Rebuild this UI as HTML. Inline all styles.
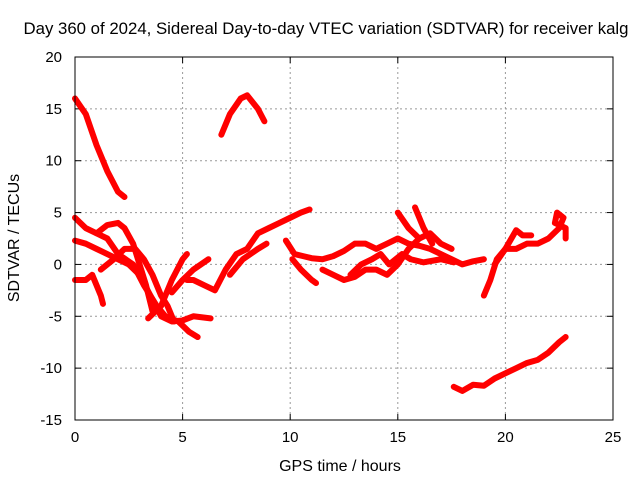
<!DOCTYPE html>
<html><head><meta charset="utf-8"><style>
body{margin:0;background:#fff}
svg{display:block;font-family:"Liberation Sans",sans-serif;font-size:15px}
</style></head><body>
<svg id="c" width="640" height="480" xmlns="http://www.w3.org/2000/svg">
<text x="326" y="34" text-anchor="middle" style="font-size:16.8px">Day 360 of 2024, Sidereal Day-to-day VTEC variation (SDTVAR) for receiver kalg</text>
<text x="340" y="471" text-anchor="middle" style="font-size:16px">GPS time / hours</text>
<text transform="translate(19,238) rotate(-90)" text-anchor="middle" style="font-size:16px">SDTVAR / TECUs</text>
<g id="grid"></g>
<g id="ticks"></g>
<g id="series"></g>
<rect x="75" y="57" width="538" height="363" fill="none" stroke="#000" stroke-width="1"/>
</svg>
<script>
const xTicks=[0,5,10,15,20,25];
const yTicks=[-15,-10,-5,0,5,10,15,20];
const s1=[[0,16],[0.5,14.5],[1,11.5],[1.5,9],[2,7],[2.3,6.5]];
const s2=[[6.8,12.5],[7.2,14.5],[7.7,16],[8,16.3],[8.5,15],[8.8,13.8]];
const s3=[[0,4.5],[0.5,3.5],[1,3],[1.5,2.5],[2,1],[2.7,0],[3.2,-2],[3.8,-4],[4.2,-5],[4.8,-5.5],[5.3,-6.5],[5.7,-7]];
const s4=[[0,2.3],[0.5,2],[1,1.5],[1.5,1],[2,0.5],[2.5,0],[3,-1],[3.5,-3],[4,-5],[4.5,-5.5],[5,-5.4],[5.5,-5],[6.3,-5.2]];
const s5=[[0,-1.5],[0.5,-1.5],[0.8,-1],[1,-2],[1.2,-3],[1.3,-3.8]];
const s6=[[1,3],[1.5,3.8],[2,4],[2.3,3.5],[2.7,2],[3,0],[3.3,-2],[3.6,-4.5]];
const s7=[[1.2,-0.5],[1.8,0.5],[2.3,1.5],[2.8,1.5],[3.2,0.5],[3.6,-1],[4,-3],[4.3,-4],[4.6,-5.5]];
const s8=[[3.4,-5.2],[4,-4],[4.5,-1.5],[5,0.5],[5.2,1]];
const s9=[[5.2,-1.5],[5.5,-1.5],[6,-2],[6.5,-2.5],[7,-0.5],[7.5,1],[8,1.5],[8.5,3],[9,3.5],[9.5,4],[10,4.5],[10.5,5],[10.9,5.3]];
const s10=[[4.5,-2.7],[5,-1.5],[5.5,-0.5],[6.2,0.5]];
const s11=[[7.2,-1],[7.8,0.5],[8.5,1.5],[8.9,2]];
const s12=[[9.8,2.3],[10.2,1],[10.6,0.8],[11,0.6],[11.5,0.5],[12,0.8],[12.5,1.3],[13,2],[13.5,2],[14,1.5],[14.5,2],[15,2.5],[15.5,2],[16,1.8],[16.5,1.5],[17,1],[17.5,0.5],[18,0],[18.5,0.3],[19,0.5]];
const s13=[[10.1,0.5],[10.5,-0.5],[11,-1.5],[11.2,-1.8]];
const s14=[[11.5,-0.5],[12,-1],[12.5,-1.5],[13,-1.2],[13.5,-0.5],[14,-0.5],[14.5,-1],[15,0],[15.5,1.5],[16,2.5],[16.5,3],[17,2],[17.5,1.5]];
const s15=[[15,5],[15.5,3.5],[16,2.5]];
const s16=[[15.8,5.5],[16.2,3.5],[16.6,2]];
const s17=[[12.8,-1],[13.3,0],[13.8,0.5],[14.2,1],[14.6,0],[15.2,1],[15.6,0.5],[16.2,0.2],[17,0.5],[17.6,0.2]];
const s18=[[19,-3],[19.3,-1.5],[19.6,0.5],[20,1.5],[20.5,3.3],[20.8,2.8],[21.2,2.8]];
const s19=[[19.5,0],[20,1.5],[20.5,1.5],[21,2],[21.5,2],[22,2.5],[22.5,3.5],[22.7,4.5],[22.4,5],[22.3,4],[22.8,3.5],[22.8,2.5]];
const s20=[[17.6,-11.8],[18,-12.2],[18.5,-11.6],[19,-11.7],[19.5,-11],[20,-10.5],[20.5,-10],[21,-9.5],[21.5,-9.2],[22,-8.5],[22.5,-7.5],[22.8,-7]];
const allSeries=[s1,s2,s3,s4,s5,s6,s7,s8,s9,s10,s11,s12,s13,s14,s15,s16,s17,s18,s19,s20];
const X=v=>75+v*538/25, Y=v=>57+(20-v)*363/35;
const NS="http://www.w3.org/2000/svg";
const mk=(t,a,p)=>{const e=document.createElementNS(NS,t);for(const k in a)e.setAttribute(k,a[k]);p.appendChild(e);return e;};
const G=document.getElementById('grid'),T=document.getElementById('ticks'),S=document.getElementById('series');
xTicks.forEach(v=>{
 if(v>0&&v<25){const l=mk('line',{x1:X(v),x2:X(v),y1:57,y2:420,stroke:'#999','stroke-dasharray':'2,3'},G);
 
 }
 mk('line',{x1:X(v),x2:X(v),y1:420,y2:414,stroke:'#000'},T);
 mk('line',{x1:X(v),x2:X(v),y1:57,y2:63,stroke:'#000'},T);
 const t=mk('text',{x:X(v),y:442,'text-anchor':'middle'},T);t.textContent=v;
 
 
});
yTicks.forEach(v=>{
 if(v>-15&&v<20){const l=mk('line',{x1:75,x2:613,y1:Y(v),y2:Y(v),stroke:'#999','stroke-dasharray':'2,3'},G);
 
 }
 mk('line',{x1:75,x2:81,y1:Y(v),y2:Y(v),stroke:'#000'},T);
 mk('line',{x1:613,x2:607,y1:Y(v),y2:Y(v),stroke:'#000'},T);
 const t=mk('text',{x:62,y:Y(v)+5,'text-anchor':'end'},T);t.textContent=v;
 
 
});
allSeries.forEach((s,i)=>{
 const p=mk('polyline',{points:s.map(d=>X(d[0])+','+Y(d[1])).join(' '),fill:'none',stroke:'#f00','stroke-width':6,'stroke-linejoin':'round','stroke-linecap':'round'},S);
 
 
});
</script>
</body></html>
